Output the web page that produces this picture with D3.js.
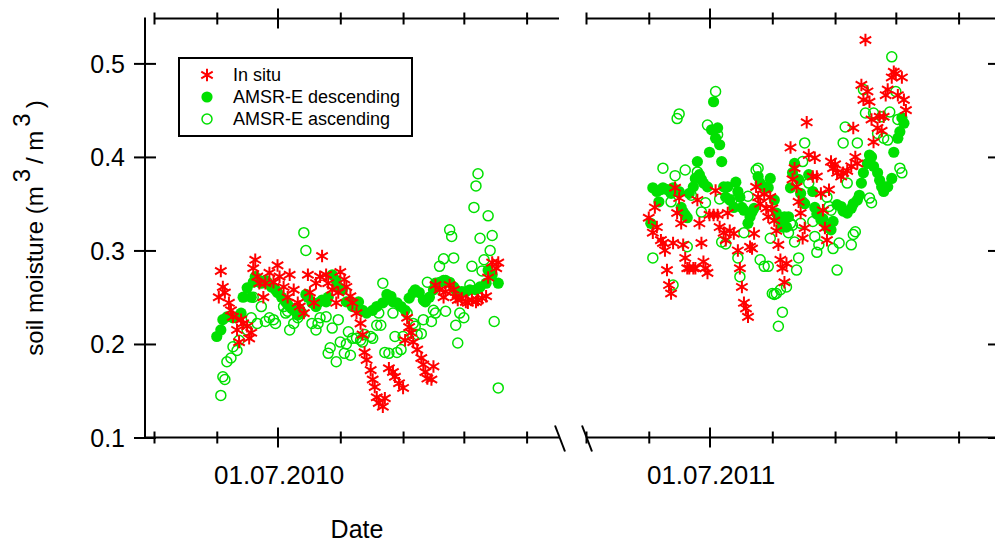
<!DOCTYPE html>
<html><head><meta charset="utf-8">
<script src="https://cdn.jsdelivr.net/npm/d3@7/dist/d3.min.js"></script>
<style>
body{margin:0;background:#fff}
svg{display:block}
text{font-family:Arial,"Liberation Sans",sans-serif;fill:#000}
</style>
</head><body>
<svg id="chart" width="995" height="542"></svg>
<script>
// ---------- DATA (day offset from 1 May of each year, soil moisture m3/m3) ----------
const yTickValues = [0.1, 0.2, 0.3, 0.4, 0.5];
const panelYears = [2010, 2011];
const seriesNames = ["In situ", "AMSR-E descending", "AMSR-E ascending"];

const inSitu2010 = [[32,.250],[33,.278],[34,.261],[35,.255],[37,.244],[38,.236],[39,.229],[41,.215],[42,.202],[43,.226],[44,.222],[46,.219],[47,.206],[48,.212],[49,.281],[50,.290],[51,.272],[52,.265],[54,.250],[55,.265],[57,.276],[59,.266],[61,.284],[62,.272],[64,.261],[66,.250],[67,.274],[69,.258],[71,.244],[72,.240],[74,.233],[76,.274],[77,.255],[79,.244],[80,.265],[82,.272],[83,.294],[85,.274],[86,.265],[88,.258],[90,.244],[91,.255],[92,.277],[94,.269],[95,.261],[97,.251],[98,.244],[100,.233],[102,.222],[103,.210],[104,.191],[105,.183],[107,.172],[108,.162],[109,.154],[110,.143],[111,.137],[113,.133],[114,.142],[116,.174],[118,.170],[119,.165],[121,.158],[123,.153],[124,.204],[125,.228],[126,.218],[127,.212],[128,.202],[130,.194],[132,.185],[133,.178],[134,.170],[135,.163],[137,.162],[138,.176],[139,.263],[141,.258],[143,.250],[144,.256],[146,.263],[148,.258],[149,.250],[150,.247],[152,.249],[154,.245],[155,.244],[157,.247],[159,.245],[160,.247],[162,.249],[164,.251],[165,.271],[167,.287],[169,.281],[170,.287]];

const desc2010 = [[31,.208],[33,.215],[34,.226],[36,.229],[39,.228],[41,.229],[43,.233],[44,.250],[46,.260],[48,.250],[49,.266],[50,.272],[52,.268],[53,.265],[55,.268],[56,.266],[58,.261],[60,.258],[61,.255],[63,.250],[65,.245],[66,.242],[68,.238],[70,.235],[71,.231],[73,.233],[75,.253],[76,.250],[78,.244],[80,.240],[81,.244],[83,.247],[85,.245],[86,.250],[88,.274],[90,.268],[91,.261],[93,.258],[95,.245],[97,.244],[98,.240],[101,.245],[103,.236],[105,.233],[108,.236],[110,.240],[113,.244],[115,.253],[117,.251],[118,.245],[120,.244],[122,.240],[124,.236],[126,.249],[128,.255],[129,.258],[131,.255],[133,.247],[134,.245],[136,.250],[138,.258],[139,.265],[141,.266],[143,.268],[144,.268],[146,.266],[148,.261],[149,.258],[150,.255],[152,.256],[154,.256],[156,.258],[159,.258],[161,.261],[164,.265],[165,.279],[167,.274],[170,.265]];

const asc2010 = [[33,.145],[34,.165],[35,.162],[36,.181],[38,.185],[39,.197],[41,.193],[42,.204],[46,.215],[48,.228],[49,.250],[51,.222],[53,.240],[55,.224],[57,.228],[59,.226],[60,.222],[64,.240],[65,.233],[66,.235],[67,.215],[69,.222],[71,.228],[72,.236],[74,.319],[75,.300],[78,.222],[80,.215],[81,.222],[82,.228],[85,.229],[86,.190],[87,.196],[88,.217],[90,.181],[91,.226],[92,.202],[94,.190],[95,.200],[96,.213],[97,.188],[98,.206],[100,.206],[102,.204],[103,.202],[104,.210],[107,.208],[108,.206],[110,.220],[111,.233],[112,.220],[113,.265],[114,.191],[116,.190],[118,.233],[119,.208],[120,.191],[122,.194],[123,.208],[125,.233],[128,.222],[129,.219],[130,.210],[132,.211],[133,.226],[135,.266],[137,.224],[138,.236],[139,.233],[141,.283],[143,.291],[144,.235],[146,.322],[147,.315],[148,.292],[149,.220],[150,.201],[151,.233],[153,.228],[156,.263],[157,.283],[158,.346],[159,.369],[160,.382],[161,.313],[162,.278],[163,.290],[165,.337],[166,.300],[167,.316],[168,.224],[170,.153]];

const inSitu2011 = [[31,.335],[33,.319],[34,.346],[35,.325],[37,.311],[38,.308],[39,.300],[40,.279],[41,.263],[42,.254],[43,.308],[44,.367],[45,.340],[46,.356],[47,.329],[48,.306],[49,.292],[50,.281],[51,.281],[53,.281],[54,.281],[55,.354],[56,.329],[57,.308],[58,.288],[59,.281],[60,.276],[61,.338],[63,.338],[64,.364],[65,.338],[66,.325],[68,.319],[69,.311],[70,.340],[71,.321],[73,.318],[75,.300],[76,.281],[77,.261],[78,.244],[79,.238],[80,.229],[81,.304],[82,.302],[83,.318],[84,.368],[85,.357],[86,.350],[88,.360],[89,.345],[90,.336],[91,.357],[92,.345],[93,.332],[94,.321],[95,.306],[96,.290],[97,.281],[98,.266],[99,.286],[101,.410],[102,.376],[103,.388],[104,.368],[105,.352],[106,.340],[107,.313],[108,.324],[109,.437],[110,.402],[112,.379],[113,.399],[114,.379],[116,.361],[117,.343],[118,.324],[119,.311],[120,.365],[121,.395],[122,.388],[123,.392],[124,.383],[126,.379],[127,.383],[129,.385],[131,.390],[132,.431],[133,.400],[134,.393],[136,.477],[137,.461],[138,.525],[139,.470],[140,.459],[141,.440],[142,.416],[144,.431],[145,.443],[146,.428],[147,.443],[148,.466],[149,.472],[151,.485],[152,.491],[153,.489],[154,.466],[156,.485],[157,.461],[158,.450]];

const desc2011 = [[32,.329],[33,.367],[35,.363],[36,.352],[37,.365],[38,.367],[40,.365],[42,.361],[43,.367],[45,.363],[46,.363],[47,.346],[48,.341],[49,.338],[50,.335],[51,.361],[53,.368],[54,.377],[55,.395],[56,.381],[57,.376],[58,.372],[60,.368],[61,.405],[62,.429],[63,.459],[64,.420],[65,.431],[66,.413],[67,.395],[68,.368],[69,.357],[70,.368],[71,.354],[73,.346],[74,.373],[75,.363],[76,.357],[77,.346],[78,.343],[80,.329],[81,.336],[82,.341],[83,.345],[85,.379],[86,.372],[88,.368],[90,.367],[91,.377],[93,.354],[94,.340],[95,.336],[96,.332],[97,.325],[98,.336],[99,.325],[100,.336],[101,.367],[102,.383],[103,.393],[105,.376],[106,.361],[107,.352],[108,.350],[110,.381],[112,.363],[113,.346],[114,.339],[116,.333],[117,.334],[119,.325],[121,.322],[122,.331],[124,.349],[126,.347],[127,.342],[129,.340],[131,.345],[132,.350],[134,.354],[135,.359],[136,.372],[137,.383],[139,.393],[140,.402],[141,.400],[142,.390],[144,.383],[145,.375],[146,.368],[147,.363],[148,.368],[149,.368],[151,.377],[152,.405],[154,.420],[155,.427],[156,.442],[157,.436]];

const asc2011 = [[33,.292],[38,.388],[42,.352],[43,.263],[44,.380],[45,.441],[46,.446],[49,.386],[50,.304],[52,.359],[55,.384],[57,.341],[59,.351],[60,.434],[64,.470],[65,.424],[66,.355],[67,.309],[69,.307],[72,.354],[75,.292],[76,.272],[78,.319],[80,.358],[84,.386],[85,.388],[86,.290],[88,.283],[90,.283],[91,.313],[92,.254],[93,.253],[94,.254],[95,.219],[96,.258],[97,.234],[99,.261],[100,.319],[101,.329],[102,.327],[103,.309],[104,.279],[105,.292],[106,.329],[107,.395],[108,.415],[110,.372],[112,.331],[113,.315],[114,.298],[115,.306],[119,.357],[120,.347],[121,.343],[122,.302],[124,.279],[125,.308],[127,.415],[128,.432],[129,.372],[131,.306],[132,.317],[133,.320],[134,.415],[137,.472],[138,.447],[140,.356],[141,.351],[142,.447],[144,.425],[146,.443],[147,.420],[149,.418],[150,.448],[151,.507],[153,.470],[154,.440],[155,.388],[156,.383]];

// ---------- LAYOUT ----------
const RED = "#ff0000", GREEN = "#00e000";
const svg = d3.select("#chart");
const y = d3.scaleLinear().domain([0.1, 0.548]).range([437.5, 18.5]);
const axisX = 145, topY = 18.5, botY = 437.5;

const panels = [
  {year: 2010, range: [154, 559], inSitu: inSitu2010, desc: desc2010, asc: asc2010, topStart: 154, botStart: 145, end: 559},
  {year: 2011, range: [586, 999], inSitu: inSitu2011, desc: desc2011, asc: asc2011, topStart: 586, botStart: 586, end: 999}
];
panels.forEach(p => {
  const start = new Date(p.year, 4, 1);
  const pxPerDay = 2.025;
  const endDate = d3.timeHour.offset(start, Math.round((p.range[1]-p.range[0]) / pxPerDay * 24));
  p.x = d3.scaleTime().domain([start, endDate]).range(p.range);
  p.start = start;
  p.months = d3.timeMonth.range(start, new Date(p.year, 10, 2));
});

const asterisk = {
  draw(ctx, size) {
    const h = Math.sqrt(size) / 2;
    ctx.moveTo(0, -h); ctx.lineTo(0, h);
    ctx.moveTo(-h*0.92, -h*0.55); ctx.lineTo(h*0.92, h*0.55);
    ctx.moveTo(-h*0.92, h*0.55); ctx.lineTo(h*0.92, -h*0.55);
  }
};
const starPath = d3.symbol().type(asterisk).size(156)();

const lineStyle = s => s.attr("stroke", "#000").attr("stroke-width", 2).attr("fill", "none");

// ---------- PANELS ----------
panels.forEach(p => {
  const g = svg.append("g");
  const dt = d => d3.timeDay.offset(p.start, d[0]);

  g.append("line").attr("x1", p.topStart).attr("x2", p.end).attr("y1", topY).attr("y2", topY).call(lineStyle);
  g.append("line").attr("x1", p.botStart).attr("x2", p.end).attr("y1", botY).attr("y2", botY).call(lineStyle);

  const fmt = d3.timeFormat("%d.%m.%Y");
  [[d3.axisBottom, botY], [d3.axisTop, topY]].forEach(([axf, yy], i) => {
    const ax = g.append("g").attr("transform", `translate(0,${yy})`)
      .call(axf(p.x).tickValues(p.months).tickSizeOuter(0)
        .tickFormat(d => (i === 0 && d.getMonth() === 6) ? fmt(d) : ""));
    ax.select(".domain").remove();
    ax.selectAll(".tick line")
      .attr("y1", d => d.getMonth() === 6 ? -10 : -6)
      .attr("y2", d => d.getMonth() === 6 ? 10 : 6)
      .attr("stroke", "#000").attr("stroke-width", 2);
    ax.selectAll(".tick text").attr("y", 0).attr("dy", 0)
      .attr("transform", "translate(1,46)")
      .style("font-size", "26px").style("font-family", "Arial, 'Liberation Sans', sans-serif").attr("fill", "#000");
  });

  g.append("g").selectAll("circle.desc").data(p.desc).join("circle")
    .attr("cx", d => p.x(dt(d))).attr("cy", d => y(d[1])).attr("r", 5.6).attr("fill", GREEN);
  g.append("g").selectAll("circle.asc").data(p.asc).join("circle")
    .attr("cx", d => p.x(dt(d))).attr("cy", d => y(d[1])).attr("r", 5)
    .attr("fill", "none").attr("stroke", GREEN).attr("stroke-width", 1.5);
  g.append("g").selectAll("path").data(p.inSitu).join("path")
    .attr("d", starPath).attr("transform", d => `translate(${p.x(dt(d))},${y(d[1])})`)
    .attr("stroke", RED).attr("stroke-width", 2).attr("fill", "none");
});

// ---------- Y AXES ----------
svg.append("line").attr("x1", axisX).attr("x2", axisX).attr("y1", topY - 1).attr("y2", botY + 1).call(lineStyle);
const yAx = svg.append("g").attr("transform", `translate(${axisX},0)`)
  .call(d3.axisLeft(y).tickValues(yTickValues).tickFormat(d3.format(".1f")).tickSizeOuter(0));
yAx.select(".domain").remove();
yAx.selectAll(".tick line").attr("x1", -11).attr("x2", 11).attr("stroke", "#000").attr("stroke-width", 2);
yAx.selectAll(".tick text").attr("x", -20).attr("dy", "0.35em")
  .style("font-size", "25px").style("font-family", "Arial, 'Liberation Sans', sans-serif").attr("fill", "#000");

const rightX = 999;
svg.append("line").attr("x1", rightX).attr("x2", rightX).attr("y1", topY).attr("y2", botY).call(lineStyle);
const yAxR = svg.append("g").attr("transform", `translate(${rightX},0)`)
  .call(d3.axisRight(y).tickValues(yTickValues).tickFormat("").tickSizeOuter(0));
yAxR.select(".domain").remove();
yAxR.selectAll(".tick line").attr("x1", -11).attr("x2", 11).attr("stroke", "#000").attr("stroke-width", 2);

[[555, 565], [582, 592]].forEach(([a, b]) => {
  svg.append("line").attr("x1", a).attr("y1", botY - 12).attr("x2", b).attr("y2", botY + 14).call(lineStyle);
});

// ---------- TITLES ----------
svg.append("text").attr("x", 357).attr("y", 538).attr("text-anchor", "middle")
  .style("font-size", "25px").text("Date");
const yt = svg.append("text").attr("transform", "translate(43,228) rotate(-90)")
  .attr("text-anchor", "middle").style("font-size", "24px");
yt.append("tspan").text("soil moisture (m");
yt.append("tspan").attr("dy", -13).attr("dx", 4).text("3");
yt.append("tspan").attr("dy", 13).attr("dx", 5).text("/ m");
yt.append("tspan").attr("dy", -13).attr("dx", 4).text("3");
yt.append("tspan").attr("dy", 13).attr("dx", 5).text(")");

// ---------- LEGEND ----------
const lg = svg.append("g");
lg.append("rect").attr("x", 179).attr("y", 58).attr("width", 233).attr("height", 78)
  .attr("fill", "#fff").attr("stroke", "#000").attr("stroke-width", 2);
const rows = [75, 97, 119];
lg.append("path").attr("d", starPath).attr("transform", `translate(207,${rows[0]})`)
  .attr("stroke", RED).attr("stroke-width", 2).attr("fill", "none");
lg.append("circle").attr("cx", 207).attr("cy", rows[1]).attr("r", 5.6).attr("fill", GREEN);
lg.append("circle").attr("cx", 207).attr("cy", rows[2]).attr("r", 5).attr("fill", "none")
  .attr("stroke", GREEN).attr("stroke-width", 1.5);
seriesNames.forEach((n, i) => {
  lg.append("text").attr("x", 233).attr("y", rows[i] + 6).style("font-size", "18px").text(n);
});
</script>
</body></html>
